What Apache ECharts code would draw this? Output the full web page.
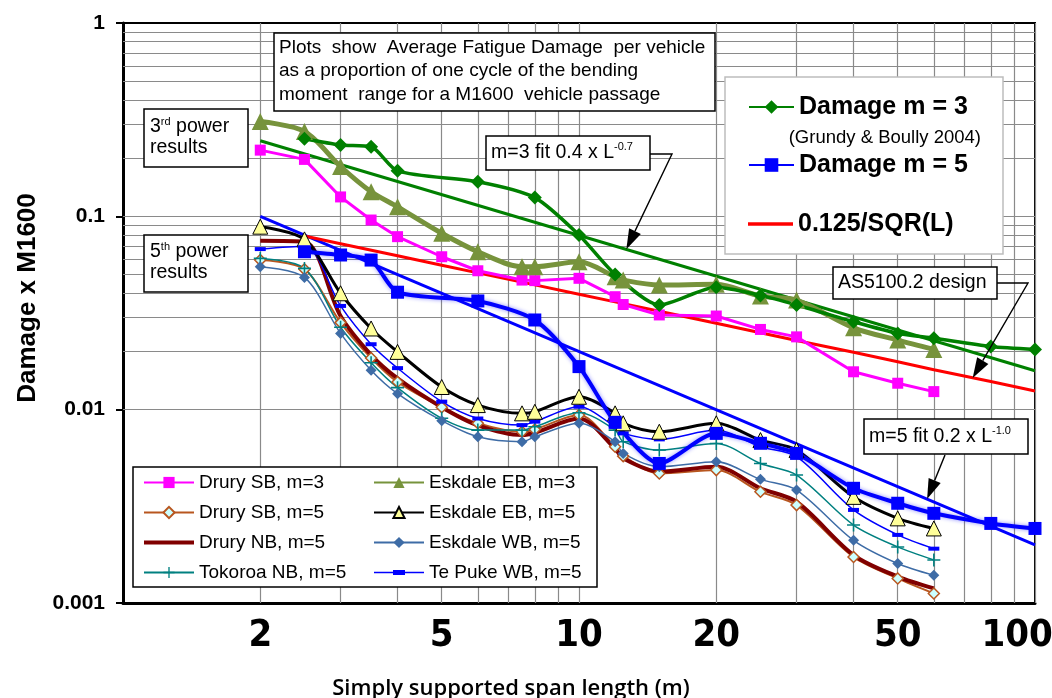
<!DOCTYPE html>
<html>
<head>
<meta charset="utf-8">
<script src="https://cdn.jsdelivr.net/npm/echarts@6/dist/echarts.min.js"></script>
<style>
  html, body { margin: 0; padding: 0; background: #fff; }
  #chart { width: 1052px; height: 698px; }
</style>
</head>
<body>
<div id="chart"></div>
<script>
// Span lengths (m) measured at each site
const spans = [2, 2.5, 3, 3.5, 4, 5, 6, 7.5, 8, 10, 12, 12.5, 15, 20, 25, 30, 40, 50, 60];

// Average fatigue damage per vehicle, as a proportion of one M1600 cycle
const drurySBm3   = [0.220, 0.197, 0.126, 0.0957, 0.0785, 0.0618, 0.0523, 0.0468, 0.0465, 0.0478, 0.0384, 0.0350, 0.0309, 0.0305, 0.0260, 0.0238, 0.0157, 0.0137, 0.0124];
const eskdaleEBm3 = [0.309, 0.275, 0.181, 0.134, 0.112, 0.0817, 0.0656, 0.0549, 0.0549, 0.0582, 0.0487, 0.0468, 0.0441, 0.0445, 0.0387, 0.0369, 0.0265, 0.0229, 0.0205];
const drurySBm5   = [0.0594, 0.0532, 0.0282, 0.0185, 0.0139, 0.0103, 0.0085, 0.00769, 0.0079, 0.00938, 0.00643, 0.00575, 0.00468, 0.00487, 0.00376, 0.00321, 0.00173, 0.00134, 0.00112];
const eskdaleEBm5 = [0.0884, 0.0760, 0.0400, 0.0263, 0.0199, 0.0131, 0.01056, 0.00957, 0.00975, 0.01166, 0.00957, 0.0085, 0.00769, 0.0085, 0.00696, 0.00618, 0.00354, 0.00274, 0.00243];
const druryNBm5   = [0.0748, 0.0739, 0.0305, 0.0192, 0.0145, 0.0103, 0.0083, 0.0074, 0.0076, 0.0090, 0.0063, 0.0056, 0.00478, 0.00507, 0.00392, 0.00334, 0.00177, 0.00137, 0.00119];
const eskdaleWBm5 = [0.0549, 0.0483, 0.0248, 0.0160, 0.0121, 0.00877, 0.00724, 0.00683, 0.00724, 0.0085, 0.00683, 0.00594, 0.00507, 0.00538, 0.00436, 0.00384, 0.00211, 0.0016, 0.00139];
const tokoroaNBm5 = [0.0606, 0.0538, 0.0267, 0.0175, 0.0130, 0.00902, 0.00784, 0.00784, 0.00816, 0.00964, 0.00784, 0.00683, 0.00618, 0.00669, 0.00527, 0.00459, 0.00253, 0.00195, 0.00167];
const tePukeWBm5  = [0.0677, 0.0700, 0.0344, 0.0218, 0.0164, 0.0110, 0.0090, 0.00832, 0.00867, 0.01035, 0.00816, 0.00754, 0.00702, 0.00784, 0.00643, 0.00571, 0.00303, 0.00225, 0.00191];

// Grundy & Boully (2004) damage results
const grundySpans = [2.5, 3, 3.5, 4, 6, 8, 10, 12, 15, 20, 25, 30, 40, 50, 60, 80, 100];
const damageM3    = [0.252, 0.234, 0.229, 0.172, 0.151, 0.125, 0.080, 0.050, 0.0348, 0.043, 0.039, 0.0348, 0.0285, 0.0248, 0.0234, 0.0212, 0.0205];
const damageM5    = [0.0656, 0.0631, 0.0594, 0.0405, 0.0365, 0.0291, 0.0167, 0.0086, 0.00527, 0.00754, 0.0067, 0.00594, 0.00392, 0.00328, 0.00291, 0.00258, 0.00243];

// AS5100.2 design curve 0.125/SQR(L)
const designSpans = [2.5, 3, 4, 5, 6, 8, 10, 12, 15, 20, 25, 30, 40, 50, 60, 80, 100];
const designCurve = [0.0791, 0.0722, 0.0625, 0.0559, 0.0510, 0.0442, 0.0395, 0.0361, 0.0323, 0.0280, 0.0250, 0.0228, 0.0198, 0.0177, 0.0161, 0.0140, 0.0125];

// Power-law fits
const fitSpans = [2, 100];
const fitM3 = [0.246, 0.0159];   // 0.4 x L^-0.7
const fitM5 = [0.100, 0.0020];   // 0.2 x L^-1.0

// Axis ticks and grid
const xGridValues = [2, 3, 4, 5, 6, 7, 8, 9, 10, 20, 30, 40, 50, 60, 70, 80, 90, 100];
const xTickLabels = [2, 5, 10, 20, 50, 100];
const yGridValues = [0.002, 0.003, 0.004, 0.005, 0.006, 0.007, 0.008, 0.009, 0.01,
                     0.02, 0.03, 0.04, 0.05, 0.06, 0.07, 0.08, 0.09, 0.1,
                     0.2, 0.3, 0.4, 0.5, 0.6, 0.7, 0.8, 0.9];
const yTickLabels = ['1', '0.1', '0.01', '0.001'];

const FONT = "'Liberation Sans', Arial, sans-serif";
const NARROW = "'Liberation Sans Narrow', 'DejaVu Sans Condensed', sans-serif";
const pairs = (xs, ys) => xs.map((x, i) => [x, ys[i]]);
const plusPath = 'path://M4.4,0H5.6V4.4H10V5.6H5.6V10H4.4V5.6H0V4.4H4.4Z';

const chart = echarts.init(document.getElementById('chart'));

// Vertical and horizontal grid lines; the span labels hang below the vertical ones.
// The last label is nudged left with trailing spaces so it stays inside the canvas.
const gridLineData = xGridValues.map((v, i) => ({
  xAxis: v,
  label: xTickLabels.includes(v) ? {
    show: true, position: 'start', distance: 14,
    formatter: i === xGridValues.length - 1 ? String(v) + '\u00a0\u00a0\u00a0' : String(v),
    color: '#000', fontFamily: NARROW, fontWeight: 'bold', fontSize: 38
  } : { show: false }
})).concat(yGridValues.map(v => ({ yAxis: v })));

function lineSeries(name, xs, ys, opt) {
  return Object.assign({
    name: name, type: 'line', data: pairs(xs, ys), z: 2,
    showSymbol: true, symbolKeepAspect: true
  }, opt);
}

const bigLegendText = { fontFamily: FONT, fontWeight: 'bold', fontSize: 25, lineHeight: 26, color: '#000' };
const smallLegendText = { fontFamily: FONT, fontSize: 19, lineHeight: 21, color: '#000' };

const option = {
  animation: false,
  backgroundColor: '#fff',
  grid: { left: 123, right: 17, top: 23, bottom: 95, show: true, borderColor: '#000', borderWidth: 2, backgroundColor: 'transparent' },
  xAxis: {
    type: 'log', logBase: 10, min: 1, max: 100,
    axisLine: { show: true, lineStyle: { color: '#000', width: 3 } },
    axisTick: { show: false }, axisLabel: { show: false }, splitLine: { show: false }
  },
  yAxis: {
    type: 'log', logBase: 10, min: 0.001, max: 1,
    axisLine: { show: true, lineStyle: { color: '#000', width: 3 } },
    axisTick: { show: true, inside: false, length: 7, lineStyle: { color: '#000', width: 2 } },
    axisLabel: {
      color: '#000', fontFamily: FONT, fontWeight: 'bold', fontSize: 21, margin: 18,
      formatter: v => yTickLabels.find(t => Math.abs(parseFloat(t) - v) < 1e-9 * Math.max(1, v)) || ''
    },
    splitLine: { show: false }
  },
  legend: [
    { data: ['Damage m = 3'], left: 748, top: 94, padding: 0, itemWidth: 45, itemHeight: 17, selectedMode: false, textStyle: bigLegendText },
    { data: ['Damage m = 5'], left: 748, top: 152, padding: 0, itemWidth: 45, itemHeight: 17, selectedMode: false, textStyle: bigLegendText },
    { data: [{ name: '0.125/SQR(L)', icon: 'path://M0,0H45V3.5H0Z', itemStyle: { borderWidth: 0 } }],
      left: 748, top: 211, padding: 0, itemWidth: 45, itemHeight: 17, selectedMode: false, textStyle: bigLegendText },
    { data: ['Drury SB, m=3', 'Drury SB, m=5',
             { name: 'Drury NB, m=5', icon: 'path://M0,0H50V4H0Z', itemStyle: { borderWidth: 0 } },
             'Tokoroa NB, m=5'],
      orient: 'vertical', left: 143, top: 472, padding: 0, itemGap: 9, itemWidth: 50, itemHeight: 14, selectedMode: false, textStyle: smallLegendText },
    { data: ['Eskdale EB, m=3', 'Eskdale EB, m=5', 'Eskdale WB, m=5',
             { name: 'Te Puke WB, m=5', icon: 'path://M0,1.8H50V3.2H0Z M19,0H31V5H19Z', itemStyle: { borderWidth: 0 } }],
      orient: 'vertical', left: 373, top: 472, padding: 0, itemGap: 9, itemWidth: 50, itemHeight: 14, selectedMode: false, textStyle: smallLegendText }
  ],
  series: [
    {
      name: 'gridlines', type: 'line', data: [], z: 1, silent: true, clip: false,
      markLine: {
        z: 1, silent: true, animation: false, symbol: ['none', 'none'],
        lineStyle: { color: '#8a8a8a', width: 1.2, type: 'solid' },
        label: { show: false },
        emphasis: { disabled: true },
        data: gridLineData
      }
    },
    lineSeries('m=3 fit', fitSpans, fitM3, { showSymbol: false, symbol: 'none', lineStyle: { color: '#008000', width: 3 }, itemStyle: { color: '#008000' } }),
    lineSeries('m=5 fit', fitSpans, fitM5, { showSymbol: false, symbol: 'none', lineStyle: { color: '#0000FF', width: 3 }, itemStyle: { color: '#0000FF' } }),
    lineSeries('0.125/SQR(L)', designSpans, designCurve, { symbol: 'none', lineStyle: { color: '#FF0000', width: 3 }, itemStyle: { color: '#FF0000' } }),

    lineSeries('Drury SB, m=3', spans, drurySBm3, { symbol: 'rect', symbolSize: 11, lineStyle: { color: '#FF00FF', width: 3 }, itemStyle: { color: '#FF00FF' } }),
    lineSeries('Drury SB, m=5', spans, drurySBm5, { symbol: 'diamond', symbolSize: 11, smooth: 0.3, lineStyle: { color: '#B8561F', width: 2 }, itemStyle: { color: '#CCFFFF', borderColor: '#B8561F', borderWidth: 1.5 } }),
    lineSeries('Drury NB, m=5', spans, druryNBm5, { symbol: 'none', smooth: 0.3, lineStyle: { color: '#800000', width: 4 }, itemStyle: { color: '#800000' } }),
    lineSeries('Tokoroa NB, m=5', spans, tokoroaNBm5, { symbol: plusPath, symbolSize: 13, smooth: 0.3, lineStyle: { color: '#008080', width: 1.5 }, itemStyle: { color: '#008080' } }),
    lineSeries('Eskdale EB, m=3', spans, eskdaleEBm3, { symbol: 'triangle', symbolSize: 17, smooth: 0.3, lineStyle: { color: '#77933C', width: 5 }, itemStyle: { color: '#77933C' } }),
    lineSeries('Eskdale WB, m=5', spans, eskdaleWBm5, { symbol: 'diamond', symbolSize: 11, smooth: 0.3, lineStyle: { color: '#3E6CA6', width: 1.5 }, itemStyle: { color: '#3E6CA6' } }),
    lineSeries('Te Puke WB, m=5', spans, tePukeWBm5, { symbol: 'rect', symbolSize: [11, 4], smooth: 0.3, lineStyle: { color: '#0000FF', width: 1.5 }, itemStyle: { color: '#0000FF' } }),
    lineSeries('Eskdale EB, m=5', spans, eskdaleEBm5, { symbol: 'triangle', symbolSize: 15, smooth: 0.3, lineStyle: { color: '#000000', width: 3 }, itemStyle: { color: '#FFFF99', borderColor: '#000', borderWidth: 1 } }),

    lineSeries('Damage m = 3', grundySpans, damageM3, { symbol: 'diamond', symbolSize: 14, smooth: 0.25, lineStyle: { color: '#008000', width: 3.5 }, itemStyle: { color: '#008000' } }),
    lineSeries('Damage m = 5', grundySpans, damageM5, { symbol: 'rect', symbolSize: 13, smooth: 0.25, lineStyle: { color: '#0000FF', width: 4, shadowBlur: 4, shadowColor: 'rgba(0,0,255,0.45)' }, itemStyle: { color: '#0000FF' } })
  ]
};

chart.setOption(option);

// Annotation boxes, arrows and axis titles
function box(x, y, w, h, stroke, lw, z) {
  return { type: 'rect', shape: { x: x, y: y, width: w, height: h }, style: { fill: '#fff', stroke: stroke, lineWidth: lw }, z: z, silent: true };
}
function richText(x, y, text, rich) {
  return { type: 'text', x: x, y: y, silent: true, z: 21,
    style: { text: text, rich: rich, fill: '#000', verticalAlign: 'top', align: 'left' } };
}
function arrow(points, tip) {
  const prev = points[points.length - 1];
  const dx = tip[0] - prev[0], dy = tip[1] - prev[1];
  const len = Math.hypot(dx, dy);
  const ux = dx / len, uy = dy / len, hl = 20, hw = 6.5;
  const base = [tip[0] - ux * hl, tip[1] - uy * hl];
  return [
    { type: 'polyline', shape: { points: points.concat([base]) }, style: { stroke: '#000', lineWidth: 1.4, fill: null }, z: 20, silent: true },
    { type: 'polygon', shape: { points: [tip, [base[0] - uy * hw, base[1] + ux * hw], [base[0] + uy * hw, base[1] - ux * hw]] }, style: { fill: '#000' }, z: 20, silent: true }
  ];
}

const toPx = p => chart.convertToPixel({ gridIndex: 0 }, p);
const tipFitM3 = toPx([12.7, 0.0676]);
const tipDesign = toPx([73, 0.0146]);
const tipFitM5 = toPx([58, 0.00345]);

const base = { fontFamily: FONT, fontSize: 19, lineHeight: 23.5, fill: '#000' };
const boxText = { fontFamily: FONT, fontSize: 19.5, lineHeight: 23.5, fill: '#000' };
const supS = { fontFamily: FONT, fontSize: 11, lineHeight: 23.5, verticalAlign: 'top', fill: '#000' };
const powerText = { fontFamily: FONT, fontSize: 19.5, lineHeight: 21, fill: '#000' };
const powerSup = { fontFamily: FONT, fontSize: 11, lineHeight: 21, verticalAlign: 'top', fill: '#000' };

const graphics = [
  // legend frames
  box(725, 77, 278, 177, '#bdbdbd', 1.5, 3),
  box(133, 467, 464, 120, '#000', 1.5, 3),
  { type: 'text', x: 981, y: 138, silent: true, z: 3,
    style: { text: '(Grundy & Boully 2004)', fontFamily: FONT, fontSize: 18.5, fill: '#000', align: 'right', verticalAlign: 'middle' } },

  // explanatory note
  box(274, 33, 441, 78, '#000', 1.5, 20),
  richText(279, 36, '{a|Plots  show  Average Fatigue Damage  per vehicle}\n{a|as a proportion of one cycle of the bending}\n{a|moment  range for a M1600  vehicle passage}', { a: base }),

  // power labels
  box(144, 109, 104, 58, '#000', 1.5, 20),
  richText(150, 116, '{a|3}{s|rd}{a| power}\n{a|results}', { a: powerText, s: powerSup }),
  box(144, 235, 104, 57, '#000', 1.5, 20),
  richText(150, 241, '{a|5}{s|th}{a| power}\n{a|results}', { a: powerText, s: powerSup }),

  // fit and design callouts
  box(486, 136, 164, 34, '#000', 1.5, 20),
  richText(491, 141, '{a|m=3 fit 0.4 x L}{s|-0.7}', { a: boxText, s: supS }),
  box(833, 267, 164, 32, '#000', 1.5, 20),
  richText(838, 271, '{a|AS5100.2 design}', { a: boxText }),
  box(864, 419, 164, 35, '#000', 1.5, 20),
  richText(869, 425, '{a|m=5 fit 0.2 x L}{s|-1.0}', { a: boxText, s: supS }),

  // axis titles
  { type: 'text', x: 28, y: 298, rotation: Math.PI / 2, silent: true, z: 21,
    style: { text: 'Damage x M1600', fontFamily: FONT, fontWeight: 'bold', fontSize: 26, fill: '#000', align: 'center', verticalAlign: 'middle' } },
  { type: 'text', x: 511, y: 689, silent: true, z: 21,
    style: { text: 'Simply supported span length (m)', fontFamily: "'Open Sans', sans-serif", fontWeight: 600, fontSize: 22, fill: '#000', align: 'center', verticalAlign: 'middle' } }
].concat(
  arrow([[650, 154], [672, 154]], tipFitM3),
  arrow([[997, 283], [1028, 283]], tipDesign),
  arrow([[945, 455]], tipFitM5)
);

chart.setOption({ graphic: graphics });
</script>
</body>
</html>
